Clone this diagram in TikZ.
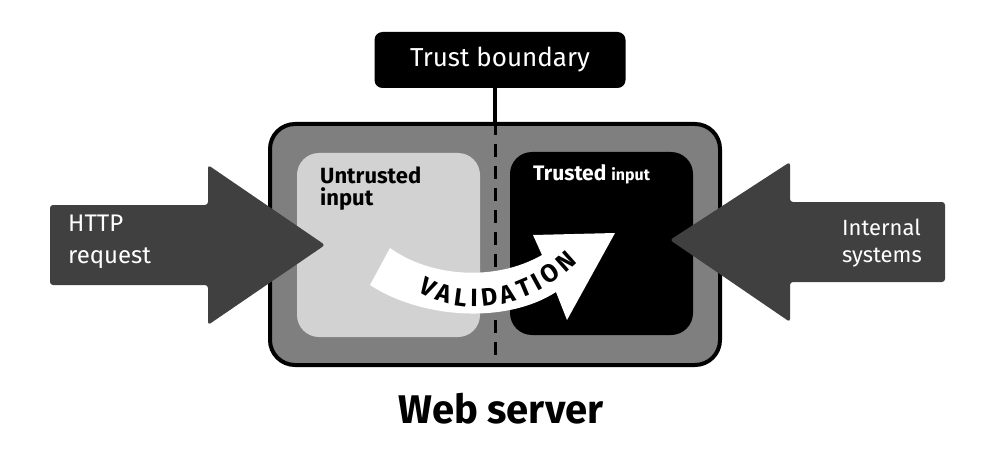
\documentclass[tikz,border=0pt]{standalone}
\usepackage{fontspec}
\setmainfont{Fira Sans}
\usetikzlibrary{decorations.text}
\definecolor{outergray}{HTML}{7F7F7F}
\definecolor{lightbox}{HTML}{D2D2D2}
\definecolor{arrowgray}{HTML}{404040}
\newcommand\valfont{\bfseries\fontsize{25}{25}\selectfont}
\tikzset{
  bigarrow/.style={fill=arrowgray, rounded corners=3pt},
  whitetext/.style={text=white, inner sep=0pt, align=left},
}
\begin{document}
\begin{tikzpicture}[x=1pt,y=-1pt]
\useasboundingbox (0,0) rectangle (992,449);
% outer web server box
\node[draw, line width=4pt, fill=outergray, rounded corners=25pt,
      minimum width=450pt, minimum height=241pt] (server) at (495,244.5) {};
% trust boundary label
\node[fill=black, rounded corners=8pt, minimum width=251pt, minimum height=56pt,
      text=white, font=\fontsize{26}{30}\selectfont] (trust) at (500,60) {Trust boundary};
\draw[line width=3.5pt] (server.north |- trust.south) -- (server.north);
% dashed boundary
\draw[line width=3pt, dash pattern=on 13pt off 9pt] (server.north) -- (server.south);
% inner boxes
\node[fill=lightbox, rounded corners=22pt, minimum width=183pt, minimum height=184pt] (untrusted) at (388.5,245) {};
\node[fill=black, rounded corners=22pt, minimum width=183pt, minimum height=183pt] (trusted) at (601.5,243.5) {};
\node[anchor=north west, inner sep=0pt, align=left, font=\bfseries\fontsize{22}{22}\selectfont] (untxt) at (320,167) {Untrusted\\input};
\node[anchor=base west, inner sep=0pt, text=white, font=\bfseries\fontsize{21}{24}\selectfont] (trtxt) at (533,180) {Trusted {\fontsize{16}{18}\selectfont input}};
% big arrows
\path[bigarrow] (50,205) -- (208,205) -- (208,165) -- (325,245) -- (208,325) -- (208,285) -- (50,285) -- cycle;
\node[whitetext, anchor=north west, font=\fontsize{24}{32}\selectfont] (http) at (68,215) {HTTP\\request};
\path[bigarrow] (945,202) -- (790,202) -- (790,162) -- (670,240) -- (790,322) -- (790,282) -- (945,282) -- cycle;
\node[whitetext, anchor=north west, font=\fontsize{22}{27}\selectfont] (internal) at (842,219) {Internal\\systems};
% validation arrow
\fill[white] (390,248) .. controls (430,277) and (495,282) .. (542,255) -- (533,235) -- (615,233) -- (567,320) -- (556,292) .. controls (505,325) and (420,318) .. (370,285) -- cycle;
\path[decorate, decoration={text along path, text={|\valfont|VALIDATION}, text align={fit to path}}]
  (418,291) .. controls (452,314) and (520,318) .. (578,262);
% caption
\node[anchor=base, inner sep=0pt, font=\bfseries\fontsize{40}{44}\selectfont] (caption) at (501,423) {Web server};
\end{tikzpicture}
\end{document}
